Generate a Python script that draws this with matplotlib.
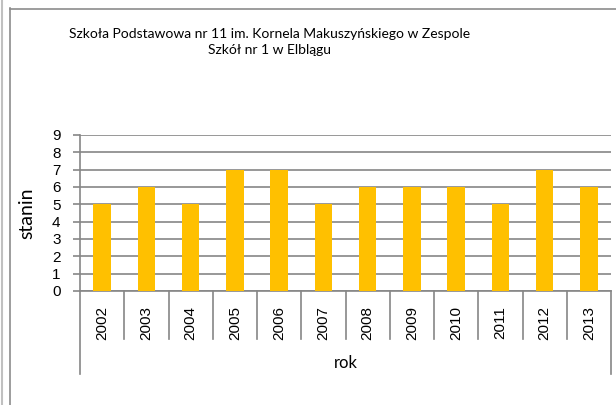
import numpy as np
import matplotlib.pyplot as plt
from matplotlib.lines import Line2D

# data
years = ['2002', '2003', '2004', '2005', '2006', '2007',
         '2008', '2009', '2010', '2011', '2012', '2013']
stanin = [5, 6, 5, 7, 7, 5, 6, 6, 6, 5, 7, 6]

title = 'Szkoła Podstawowa nr 11 im. Kornela Makuszyńskiego w Zespole\nSzkół nr 1 w Elblągu'
W, H = 616, 405
grey = '#868686'
text_font = 'Lato'
tick_font = 'Liberation Sans'

fig = plt.figure(figsize=(W / 100, H / 100), dpi=100)

# outer frame lines of the chart area
fig.add_artist(Line2D([2.5 / W, 2.5 / W], [0, 1], color='#c0c0c0', lw=1.5))
fig.add_artist(Line2D([9.5 / W, 9.5 / W], [0, 1 - 8 / H], color='#8c8c8c', lw=1.2))
fig.add_artist(Line2D([9.5 / W, 1], [1 - 8.5 / H, 1 - 8.5 / H], color='#8c8c8c', lw=1.2))

# plot area in pixels
x0, x1 = 80, 611
ytop, ybot = 135, 291
ax = fig.add_axes([x0 / W, 1 - ybot / H, (x1 - x0) / W, (ybot - ytop) / H])

x = np.arange(len(years))
ax.bar(x, stanin, width=0.39, color='#FFC000', zorder=3)

ax.set_xlim(-0.5, len(years) - 0.5)
ax.set_ylim(0, 9)
ax.set_yticks(range(10))
ax.yaxis.grid(True, color=grey, lw=1.2, zorder=0)
for s in ['top', 'right']:
    ax.spines[s].set_visible(False)
for s in ['left', 'bottom']:
    ax.spines[s].set_color(grey)
    ax.spines[s].set_linewidth(1.2)
ax.tick_params(axis='y', length=5, width=1.2, color=grey, pad=9,
               labelsize=11)
ax.tick_params(axis='x', length=0, pad=11, labelsize=11)
ax.set_xticks(x)
ax.set_xticklabels(years, rotation=90, va='top')
for lab in ax.get_xticklabels() + ax.get_yticklabels():
    lab.set_fontfamily(tick_font)

# category separators under the axis
sep_short = (339 - ybot) / (ybot - ytop)
sep_long = (374 - ybot) / (ybot - ytop)
for i in range(len(years) + 1):
    xs = i - 0.5
    depth = sep_long if i in (0, len(years)) else sep_short
    ax.plot([xs, xs], [0, -9 * depth], color=grey, lw=1.2, clip_on=False)

ax.set_ylabel('stanin', fontfamily=text_font, fontsize=14, labelpad=12)
fig.text((x0 + x1) / 2 / W, 1 - 363 / H, 'rok', ha='center', va='center',
         fontfamily=text_font, fontsize=12)
fig.text(270 / W, 1 - 42 / H, title, ha='center', va='center',
         multialignment='center', fontfamily=text_font, fontsize=10,
         linespacing=1.45)

fig.savefig('out.png', dpi=100)
